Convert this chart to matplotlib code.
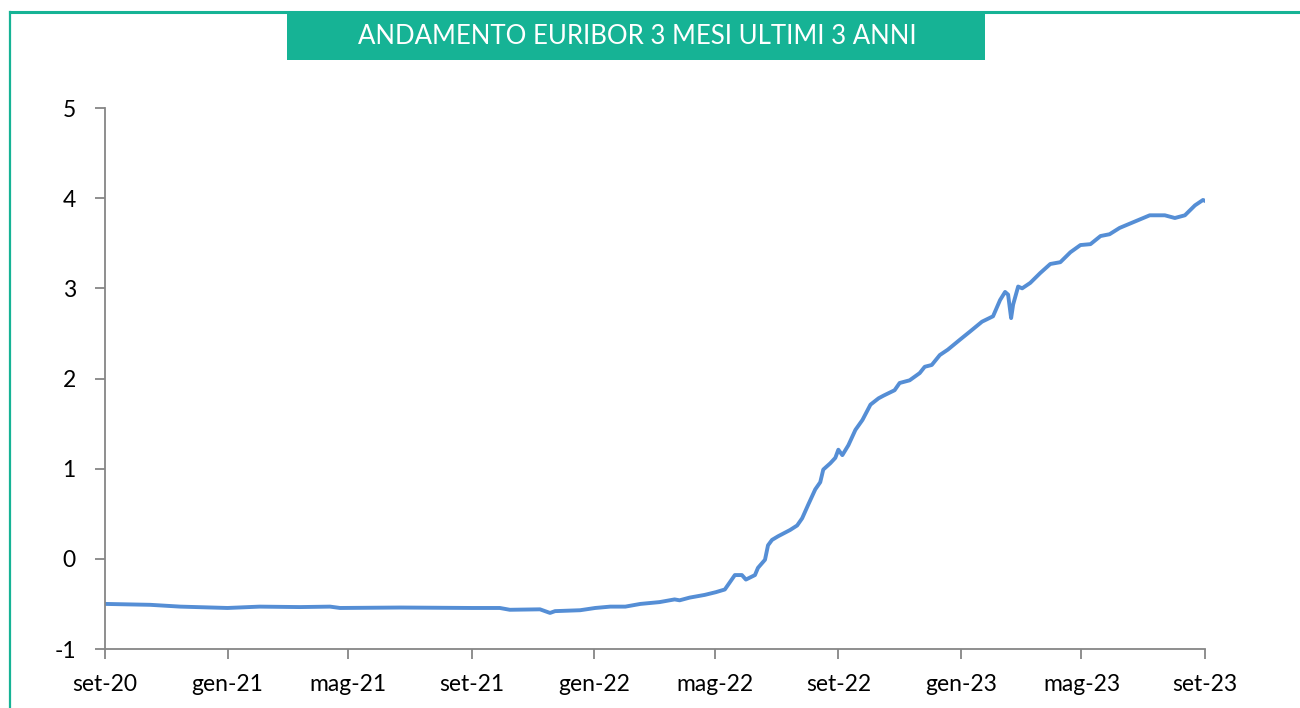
import matplotlib
matplotlib.use("Agg")
import matplotlib.pyplot as plt
from matplotlib.patches import Rectangle
from matplotlib.lines import Line2D
import pandas as pd

plt.rcParams["axes.unicode_minus"] = False

# Euribor 3 mesi
dates = [
    "2020-09-01", "2020-10-16", "2020-11-15", "2021-01-01", "2021-02-02", "2021-03-14",
    "2021-04-13", "2021-04-23", "2021-06-22", "2021-09-01", "2021-09-29", "2021-10-09",
    "2021-11-08", "2021-11-18", "2021-11-23", "2021-12-18", "2022-01-02", "2022-01-17",
    "2022-02-01", "2022-02-16", "2022-03-07", "2022-03-22", "2022-03-27", "2022-04-06",
    "2022-04-21", "2022-05-02", "2022-05-11", "2022-05-21", "2022-05-28", "2022-06-01",
    "2022-06-10", "2022-06-13", "2022-06-20", "2022-06-23", "2022-06-27", "2022-07-03",
    "2022-07-15", "2022-07-22", "2022-07-27", "2022-08-02", "2022-08-09", "2022-08-14",
    "2022-08-17", "2022-08-24", "2022-08-29", "2022-09-01", "2022-09-05", "2022-09-11",
    "2022-09-18", "2022-09-25", "2022-10-03", "2022-10-11", "2022-10-16", "2022-10-27",
    "2022-11-01", "2022-11-11", "2022-11-21", "2022-11-26", "2022-12-03", "2022-12-11",
    "2022-12-19", "2022-12-31", "2023-01-10", "2023-01-22", "2023-02-02", "2023-02-09",
    "2023-02-14", "2023-02-17", "2023-02-20", "2023-02-22", "2023-02-27", "2023-03-03",
    "2023-03-11", "2023-03-21", "2023-03-29", "2023-03-31", "2023-04-10", "2023-04-20",
    "2023-04-30", "2023-05-10", "2023-05-20", "2023-05-29", "2023-06-08", "2023-06-23",
    "2023-07-08", "2023-07-23", "2023-08-02", "2023-08-12", "2023-08-22", "2023-08-30",
    "2023-09-03",
]
values = [
    -0.50, -0.51, -0.53, -0.545, -0.53, -0.535,
    -0.53, -0.545, -0.54, -0.545, -0.545, -0.565,
    -0.56, -0.60, -0.58, -0.57, -0.545, -0.53,
    -0.53, -0.50, -0.48, -0.45, -0.46, -0.43,
    -0.40, -0.37, -0.34, -0.18, -0.18, -0.23,
    -0.18, -0.10, -0.01, 0.15, 0.21, 0.25,
    0.32, 0.37, 0.45, 0.60, 0.77, 0.85,
    0.99, 1.06, 1.12, 1.21, 1.15, 1.26,
    1.43, 1.54, 1.71, 1.78, 1.81, 1.87,
    1.95, 1.98, 2.06, 2.13, 2.15, 2.26,
    2.32, 2.43, 2.52, 2.63, 2.69, 2.87,
    2.96, 2.93, 2.67, 2.82, 3.02, 3.00,
    3.06, 3.17, 3.25, 3.27, 3.29, 3.40,
    3.48, 3.49, 3.58, 3.60, 3.67, 3.74,
    3.81, 3.81, 3.78, 3.81, 3.92, 3.98,
    3.96,
]
tick_dates = ["2020-09-01", "2021-01-01", "2021-05-01", "2021-09-01", "2022-01-01",
              "2022-05-01", "2022-09-01", "2023-01-01", "2023-05-01", "2023-09-01"]
tick_labels = ["set-20", "gen-21", "mag-21", "set-21", "gen-22",
               "mag-22", "set-22", "gen-23", "mag-23", "set-23"]
y_ticks = [-1, 0, 1, 2, 3, 4, 5]
title = "ANDAMENTO EURIBOR 3 MESI ULTIMI 3 ANNI"

teal = "#16B395"
line_col = "#558ED5"
grey = "#868686"

W, H = 1300, 708
fig = plt.figure(figsize=(W / 100, H / 100), dpi=100)
ax = fig.add_axes([105 / W, 59 / H, 1100 / W, 541 / H])

x = pd.to_datetime(dates)
ax.plot(x, values, color=line_col, lw=2.8, solid_joinstyle="round")

ax.set_ylim(-1, 5)
ax.set_yticks(y_ticks)
ax.set_xlim(pd.Timestamp(tick_dates[0]), pd.Timestamp(tick_dates[-1]))
ax.set_xticks(pd.to_datetime(tick_dates))
ax.set_xticklabels(tick_labels)

for s in ["top", "right"]:
    ax.spines[s].set_visible(False)
for s in ["left", "bottom"]:
    ax.spines[s].set_color(grey)
    ax.spines[s].set_linewidth(1.3)
ax.tick_params(axis="both", colors=grey, width=1.3, length=7, labelcolor="black",
               labelsize=16.5)
ax.tick_params(axis="x", pad=11)
ax.tick_params(axis="y", pad=14)
for lab in ax.get_xticklabels() + ax.get_yticklabels():
    lab.set_family("Lato")

# cornice e intestazione
fig.add_artist(Line2D([10 / W, 10 / W], [0, 1 - 12 / H], transform=fig.transFigure,
                      color=teal, lw=1.6))
fig.add_artist(Line2D([10 / W, 1], [1 - 12 / H, 1 - 12 / H], transform=fig.transFigure,
                      color=teal, lw=2.2))
fig.add_artist(Rectangle((287 / W, 1 - 60 / H), 698 / W, 48 / H, transform=fig.transFigure,
                         facecolor=teal, edgecolor="none"))
fig.text(637 / W, 1 - 36 / H, title, ha="center", va="center", color="white",
         fontsize=18.5, family="Lato")

fig.savefig("out.png", dpi=100)
